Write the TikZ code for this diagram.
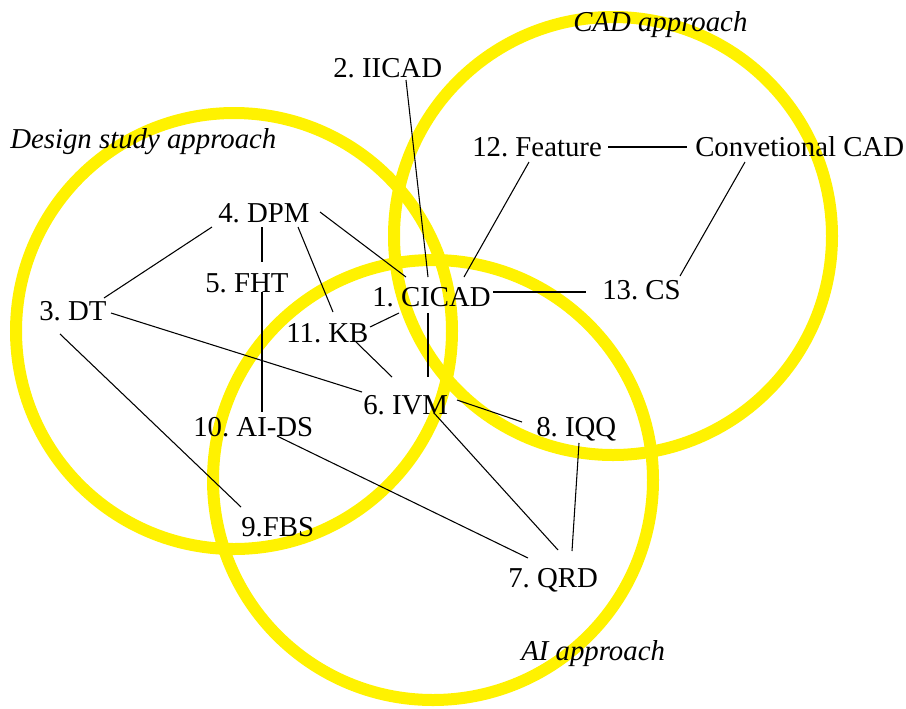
\documentclass[tikz,border=0pt]{standalone}
\usepackage{fontspec}
\setmainfont{Liberation Serif}
\usetikzlibrary{calc}
\frenchspacing
\begin{document}
\begin{tikzpicture}[x=0.75pt,y=-0.75pt,
  lbl/.style={anchor=base west,inner sep=0pt,font=\fontsize{21.6}{26}\selectfont},
  ilbl/.style={lbl,font=\fontsize{21.6}{26}\selectfont\itshape},
  ring/.style={draw=yellow,line width=9pt},
  link/.style={draw=black,line width=0.8pt}]
\useasboundingbox (0,0) rectangle (906,708);
% circles
\draw[ring] (234,331) circle[radius=218];
\draw[ring] (613,236) circle[radius=219];
\draw[ring] (433,480) circle[radius=220];
% labels
\node[ilbl] (cadap) at (573,31) {CAD approach};
\node[ilbl] (dsap) at (10,148) {Design study approach};
\node[ilbl] (aiap) at (521,660) {AI approach};
% nodes
\node[lbl] (IICAD) at (333,77) {2. IICAD};
\node[lbl] (Feat) at (472,156) {12. Feature};
\node[lbl] (Conv) at (695,156) {Convetional CAD};
\node[lbl] (DPM) at (218,222) {4. DPM};
\node[lbl] (FHT) at (205,292) {5. FHT};
\node[lbl] (DT) at (39,320) {3. DT};
\node[lbl] (CICAD) at (372,306) {1. CICAD};
\node[lbl] (CS) at (602,299) {13. CS};
\node[lbl] (KB) at (286,342) {11. KB};
\node[lbl] (IVM) at (363,414) {6. IVM};
\node[lbl] (AIDS) at (193,436) {10. AI-DS};
\node[lbl] (IQQ) at (536,436) {8. IQQ};
\node[lbl] (FBS) at (241,536) {9.FBS};
\node[lbl] (QRD) at (508,587) {7. QRD};
% connectors
\draw[link] ($(IICAD.base west)+(73,3)$) -- ($(CICAD.base west)+(56,-29)$);
\draw[link] ($(DPM.base west)+(102,-10)$) -- ($(CICAD.base west)+(34,-29)$);
\draw[link] ($(DPM.base west)+(80,5)$) -- ($(KB.base west)+(47,-30)$);
\draw[link] ($(DPM.base west)+(44,5)$) -- ($(FHT.base west)+(57,-30)$);
\draw[link] ($(FHT.base west)+(57,0)$) -- ($(AIDS.base west)+(69,-24)$);
\draw[link] ($(DT.base west)+(65,-22)$) -- ($(DPM.base west)+(-6,5)$);
\draw[link] ($(DT.base west)+(72,-7)$) -- ($(IVM.base west)+(-1,-22)$);
\draw[link] ($(DT.base west)+(21,14)$) -- ($(FBS.base west)+(0,-29)$);
\draw[link] ($(KB.base west)+(84,-15)$) -- ($(CICAD.base west)+(27,7)$);
\draw[link] ($(KB.base west)+(70,0)$) -- ($(IVM.base west)+(29,-37)$);
\draw[link] ($(CICAD.base west)+(56,7)$) -- ($(IVM.base west)+(65,-37)$);
\draw[link] ($(CICAD.base west)+(121,-14)$) -- ($(CS.base west)+(-16,-7)$);
\draw[link] ($(CICAD.base west)+(92,-29)$) -- ($(Feat.base west)+(57,6)$);
\draw[link] ($(Feat.base west)+(136,-9)$) -- ($(Conv.base west)+(-8,-9)$);
\draw[link] ($(Conv.base west)+(50,6)$) -- ($(CS.base west)+(78,-23)$);
\draw[link] ($(IVM.base west)+(94,-14)$) -- ($(IQQ.base west)+(-14,-14)$);
\draw[link] ($(IVM.base west)+(71,-1)$) -- ($(QRD.base west)+(50,-37)$);
\draw[link] ($(IQQ.base west)+(43,7)$) -- ($(QRD.base west)+(64,-36)$);
\draw[link] ($(AIDS.base west)+(84,0)$) -- ($(QRD.base west)+(20,-29)$);
\end{tikzpicture}
\end{document}
